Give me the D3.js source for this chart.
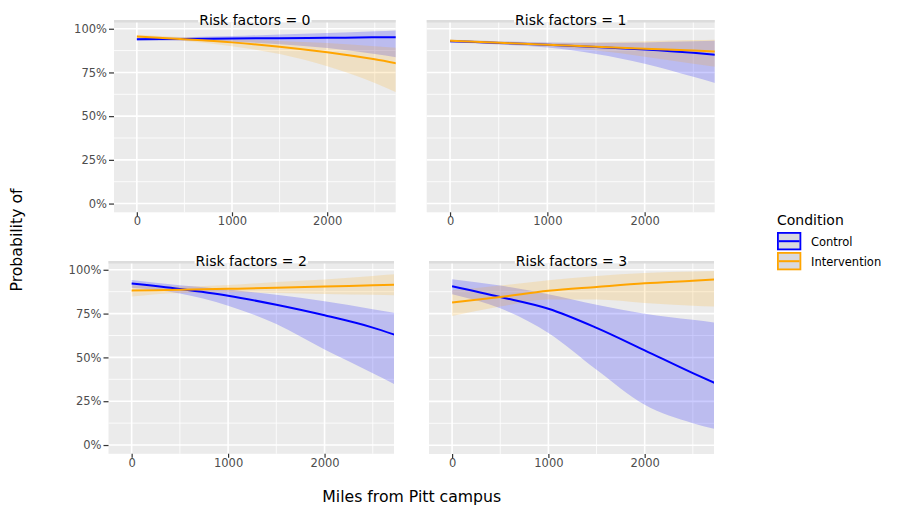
<!DOCTYPE html>
<html>
<head>
<meta charset="utf-8">
<script src="https://cdn.jsdelivr.net/npm/d3@7"></script>
<style>
  body { margin: 0; background: #fff; }
  svg { display: block; font-family: 'DejaVu Sans', sans-serif; }
</style>
</head>
<body>
<svg id="chart" width="900" height="510"></svg>
<script>
const miles = [0, 500, 1000, 1500, 2000, 2500, 2750];
const riskFactors = [0, 1, 2, 3];
const conditions = ['Control', 'Intervention'];

// Fitted probability and its band, one row per risk-factor level
const controlFit = [
  [0.940, 0.942, 0.944, 0.946, 0.948, 0.951, 0.952],
  [0.929, 0.919, 0.908, 0.895, 0.881, 0.862, 0.850],
  [0.921, 0.890, 0.852, 0.800, 0.740, 0.670, 0.625],
  [0.906, 0.845, 0.778, 0.669, 0.541, 0.411, 0.350]
];
const controlLow = [
  [0.932, 0.932, 0.925, 0.912, 0.890, 0.855, 0.835],
  [0.921, 0.910, 0.892, 0.855, 0.800, 0.725, 0.685],
  [0.898, 0.865, 0.795, 0.690, 0.545, 0.410, 0.340],
  [0.860, 0.780, 0.640, 0.430, 0.230, 0.125, 0.090]
];
const controlHigh = [
  [0.948, 0.952, 0.958, 0.967, 0.975, 0.985, 0.990],
  [0.937, 0.928, 0.922, 0.920, 0.922, 0.928, 0.932],
  [0.942, 0.912, 0.888, 0.857, 0.820, 0.775, 0.752],
  [0.946, 0.910, 0.860, 0.800, 0.750, 0.715, 0.698]
];
const interventionFit = [
  [0.955, 0.940, 0.922, 0.897, 0.865, 0.825, 0.800],
  [0.931, 0.920, 0.909, 0.897, 0.885, 0.875, 0.869],
  [0.881, 0.886, 0.891, 0.897, 0.904, 0.911, 0.915],
  [0.813, 0.845, 0.880, 0.902, 0.923, 0.938, 0.946]
];
const interventionLow = [
  [0.944, 0.930, 0.900, 0.855, 0.785, 0.690, 0.630],
  [0.923, 0.912, 0.898, 0.875, 0.840, 0.800, 0.780],
  [0.848, 0.868, 0.872, 0.868, 0.862, 0.857, 0.855],
  [0.736, 0.790, 0.830, 0.830, 0.810, 0.795, 0.790]
];
const interventionHigh = [
  [0.965, 0.951, 0.940, 0.930, 0.918, 0.900, 0.890],
  [0.939, 0.928, 0.920, 0.922, 0.928, 0.935, 0.938],
  [0.910, 0.905, 0.913, 0.930, 0.945, 0.965, 0.975],
  [0.883, 0.910, 0.940, 0.965, 0.982, 0.990, 0.994]
];

// Axis ticks
const xTicks = [0, 1000, 2000];
const xMinorTicks = [500, 1500, 2500];
const yTicks = [0, 0.25, 0.5, 0.75, 1];
const yMinorTicks = [0.125, 0.375, 0.625, 0.875];

// Panel boxes in pixels (row-major: 0, 1 / 2, 3)
const panels = [
  { left: 114, right: 395.7, top: 20, bottom: 212.3 },
  { left: 426.7, right: 714.7, top: 20, bottom: 212.3 },
  { left: 108.5, right: 394, top: 261, bottom: 453.8 },
  { left: 429, right: 714, top: 261, bottom: 454 }
];

const colors = { Control: '#0000ff', Intervention: '#ffa500' };
const ribbonOpacity = { Control: 0.2, Intervention: 0.17 };
const series = {
  Control: { fit: controlFit, low: controlLow, high: controlHigh },
  Intervention: { fit: interventionFit, low: interventionLow, high: interventionHigh }
};

const svg = d3.select('#chart');
const defs = svg.append('defs');

riskFactors.forEach((rf, i) => {
  const box = panels[i];
  const x = d3.scaleLinear().domain([-240, 2720]).range([box.left, box.right]);
  const y = d3.scaleLinear().domain([-0.05, 1.05]).range([box.bottom, box.top]);
  const g = svg.append('g').attr('class', 'panel');

  // Background
  g.append('rect')
    .attr('x', box.left).attr('y', box.top)
    .attr('width', box.right - box.left).attr('height', box.bottom - box.top)
    .attr('fill', '#ebebeb');

  // Grid lines
  g.selectAll('.vminor').data(xMinorTicks).enter().append('line')
    .attr('x1', d => x(d)).attr('x2', d => x(d))
    .attr('y1', box.top).attr('y2', box.bottom)
    .attr('stroke', '#fff').attr('stroke-width', 0.8);
  g.selectAll('.hminor').data(yMinorTicks).enter().append('line')
    .attr('x1', box.left).attr('x2', box.right)
    .attr('y1', d => y(d)).attr('y2', d => y(d))
    .attr('stroke', '#fff').attr('stroke-width', 0.8);
  g.selectAll('.vmajor').data(xTicks).enter().append('line')
    .attr('x1', d => x(d)).attr('x2', d => x(d))
    .attr('y1', box.top).attr('y2', box.bottom)
    .attr('stroke', '#fff').attr('stroke-width', 1.6);
  g.selectAll('.hmajor').data(yTicks).enter().append('line')
    .attr('x1', box.left).attr('x2', box.right)
    .attr('y1', d => y(d)).attr('y2', d => y(d))
    .attr('stroke', '#fff').attr('stroke-width', 1.6);

  // Clip the curves to the panel
  const clipId = `clip-${i}`;
  defs.append('clipPath').attr('id', clipId)
    .append('rect')
    .attr('x', box.left).attr('y', box.top)
    .attr('width', box.right - box.left).attr('height', box.bottom - box.top);

  const plot = g.append('g').attr('clip-path', `url(#${clipId})`);

  const area = d3.area()
    .x(d => x(d.x)).y0(d => y(d.low)).y1(d => y(d.high))
    .curve(d3.curveMonotoneX);
  const line = d3.line()
    .x(d => x(d.x)).y(d => y(d.fit))
    .curve(d3.curveMonotoneX);

  const rows = conditions.map(c => ({
    condition: c,
    points: miles.map((m, j) => ({
      x: m,
      fit: series[c].fit[i][j],
      low: series[c].low[i][j],
      high: series[c].high[i][j]
    }))
  }));

  // Confidence ribbons first, then the fitted lines
  plot.selectAll('.ribbon').data(rows).enter().append('path')
    .attr('d', d => area(d.points))
    .attr('fill', d => colors[d.condition])
    .attr('fill-opacity', d => ribbonOpacity[d.condition]);
  plot.selectAll('.fit').data(rows).enter().append('path')
    .attr('d', d => line(d.points))
    .attr('fill', 'none')
    .attr('stroke', d => colors[d.condition])
    .attr('stroke-width', 2);

  // Thin strip remnant at the top of the panel
  g.append('rect')
    .attr('x', box.left).attr('y', box.top)
    .attr('width', box.right - box.left).attr('height', 2.5)
    .attr('fill', '#dcdcdc');

  // Facet title on a white box
  const cx = (box.left + box.right) / 2;
  const title = g.append('text')
    .attr('x', cx).attr('y', box.top + 5)
    .attr('text-anchor', 'middle')
    .attr('font-size', 14)
    .attr('fill', '#000')
    .text(`Risk factors = ${rf}`);
  const bb = title.node().getBBox();
  g.insert('rect', 'text')
    .attr('x', bb.x - 1).attr('y', box.top - 8)
    .attr('width', bb.width + 2).attr('height', 10.5)
    .attr('fill', '#fff');

  // X axis on every panel
  const xAxis = g.append('g')
    .attr('transform', `translate(0,${box.bottom})`)
    .call(d3.axisBottom(x).tickValues(xTicks).tickFormat(d3.format('d')).tickSize(4).tickPadding(1));
  styleAxis(xAxis);

  // Y axis on the left column
  if (i % 2 === 0) {
    const yAxis = g.append('g')
      .attr('transform', `translate(${box.left},0)`)
      .call(d3.axisLeft(y).tickValues(yTicks).tickFormat(d3.format('.0%')).tickSize(5).tickPadding(2));
    styleAxis(yAxis);
  }
});

function styleAxis(sel) {
  sel.select('.domain').remove();
  sel.selectAll('.tick line').attr('stroke', '#333').attr('stroke-width', 1.2);
  sel.selectAll('.tick text')
    .attr('fill', '#4d4d4d')
    .attr('font-size', 11.5)
    .attr('font-family', "'DejaVu Sans', sans-serif");
}

// Axis titles
svg.append('text')
  .attr('x', 411.7).attr('y', 502)
  .attr('text-anchor', 'middle')
  .attr('font-size', 15.7)
  .attr('fill', '#000')
  .text('Miles from Pitt campus');

svg.append('text')
  .attr('transform', 'translate(22,240) rotate(-90)')
  .attr('text-anchor', 'middle')
  .attr('font-size', 15.7)
  .attr('fill', '#000')
  .text('Probability of');

// Legend
const legend = svg.append('g').attr('transform', 'translate(777,0)');
legend.append('text')
  .attr('x', 0).attr('y', 225)
  .attr('font-size', 14)
  .attr('fill', '#000')
  .text('Condition');

const keys = legend.selectAll('.key').data(conditions).enter().append('g')
  .attr('transform', (d, k) => `translate(0,${232 + k * 20})`);
keys.append('rect')
  .attr('x', 0.9).attr('y', 0.9)
  .attr('width', 22.5).attr('height', 16.5)
  .attr('fill', '#d9d9de')
  .attr('stroke', d => colors[d])
  .attr('stroke-width', 1.8);
keys.append('line')
  .attr('x1', 1.8).attr('x2', 22.5)
  .attr('y1', 9.2).attr('y2', 9.2)
  .attr('stroke', d => colors[d])
  .attr('stroke-width', 2);
keys.append('text')
  .attr('x', 34).attr('y', 9.5)
  .attr('dy', '0.35em')
  .attr('font-size', 11.5)
  .attr('fill', '#000')
  .text(d => d);
</script>
</body>
</html>
